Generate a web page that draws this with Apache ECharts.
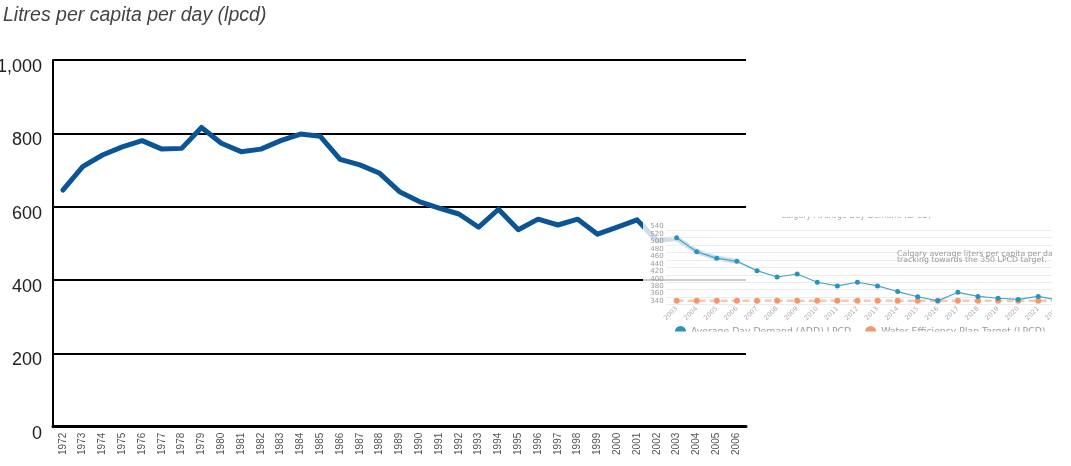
<!DOCTYPE html>
<html>
<head>
<meta charset="utf-8">
<script src="https://cdn.jsdelivr.net/npm/echarts@6/dist/echarts.min.js"></script>
<style>
html,body{margin:0;padding:0;background:#fff;}
#chart{width:1071px;height:466px;}
</style>
</head>
<body>
<div id="chart"></div>
<script>
// Main chart data
var mainYears = [];
for (var y = 1972; y <= 2006; y++) mainYears.push(String(y));
var mainValues = [645, 709, 741, 763, 780, 757, 759, 816, 773, 750, 757, 780, 798, 792, 729, 714, 691, 641, 614, 596,
                  580, 544, 593, 537, 566, 550, 566, 525, 544, 564, 508, 513, 478, 460, 451];
var mainYTicks = [0, 200, 400, 600, 800, 1000];

// Inset chart data
var insetYears = ['2003','2004','2005','2006','2007','2008','2009','2010','2011','2012',
                  '2013','2014','2015','2016','2017','2018','2019','2020','2021','2022'];
var addValues = [519, 482, 464, 456, 431, 414, 422, 400, 390, 400, 390, 375, 361, 350, 373, 362, 357, 354, 362, 352];
var targetValues = [350, 350, 350, 350, 350, 350, 350, 350, 350, 350, 350, 350, 350, 350, 350, 350, 350, 350, 350, 350];

var chart = echarts.init(document.getElementById('chart'));
var insetFont = 'DejaVu Sans';
var option = {
  animation: false,
  backgroundColor: '#fff',
  title: [
    {
      text: 'Litres per capita per day (lpcd)',
      left: 3, top: 6, padding: 0,
      textStyle: {fontFamily: 'Liberation Sans', fontStyle: 'italic', fontWeight: 'normal', fontSize: 19.5, color: '#444'}
    },
    {
      text: 'Calgary average liters per capita per day (LPCD) is\ntracking towards the 350 LPCD target.',
      left: 897, top: 250.7, z: 60, padding: 0,
      textStyle: {fontFamily: insetFont, fontWeight: 'normal', fontSize: 7.8, lineHeight: 6.5, color: '#999'}
    }
  ],
  legend: {
    data: ['Average Day Demand (ADD) LPCD', 'Water Efficiency Plan Target (LPCD)'],
    left: 670, top: 321, z: 60,
    icon: 'circle', itemWidth: 11, itemHeight: 11, itemGap: 14,
    textStyle: {fontFamily: insetFont, fontSize: 9.3, color: '#999'}
  },
  grid: [
    {left: 53, right: 325, top: 60, bottom: 39.3, outerBoundsMode: 'none', containLabel: false},
    {left: 666.6, right: 2.6, top: 230, bottom: 161.4, outerBoundsMode: 'none', containLabel: false}
  ],
  xAxis: [
    {
      type: 'category', gridIndex: 0, data: mainYears, boundaryGap: true,
      axisLine: {lineStyle: {color: '#000', width: 3}},
      axisTick: {show: false},
      axisLabel: {rotate: 90, interval: 0, fontSize: 10, fontFamily: 'Liberation Sans', color: '#555', margin: 6}
    },
    {
      type: 'category', gridIndex: 1, data: insetYears, boundaryGap: true, z: 55,
      axisLine: {show: false},
      axisTick: {show: false},
      axisLabel: {rotate: 45, interval: 0, fontSize: 6.5, fontFamily: insetFont, color: '#aaa', margin: 3}
    }
  ],
  yAxis: [
    {
      type: 'value', gridIndex: 0, min: mainYTicks[0], max: mainYTicks[mainYTicks.length - 1], interval: 200,
      axisLine: {show: true, lineStyle: {color: '#000', width: 2}},
      axisTick: {show: false},
      splitLine: {lineStyle: {color: '#000', width: 2}},
      axisLabel: {
        fontSize: 18, fontFamily: 'Liberation Sans', color: '#222', margin: 11,
        verticalAlign: 'top', lineHeight: 14,
        formatter: function (v) { return v.toLocaleString('en-US'); }
      }
    },
    {
      type: 'value', gridIndex: 1, min: 340, max: 540, interval: 20, z: 55,
      axisLine: {show: false},
      axisTick: {show: false},
      splitLine: {lineStyle: {color: '#ececec', width: 1}},
      axisLabel: {fontSize: 7, fontFamily: insetFont, color: '#999', margin: 3, verticalAlign: 'bottom',
                  showMinLabel: true, showMaxLabel: true, hideOverlap: false}
    }
  ],
  series: [
    {
      name: 'Main', type: 'line', xAxisIndex: 0, yAxisIndex: 0, data: mainValues,
      symbol: 'none', z: 2,
      lineStyle: {color: '#0b5596', width: 5, cap: 'round', join: 'round'}
    },
    {
      name: 'Water Efficiency Plan Target (LPCD)', type: 'line', xAxisIndex: 1, yAxisIndex: 1, data: targetValues,
      symbol: 'circle', symbolSize: 6, z: 60,
      itemStyle: {color: '#f4976c'},
      lineStyle: {color: '#f8c9b0', width: 2.5, type: [7, 4]}
    },
    {
      name: 'Average Day Demand (ADD) LPCD', type: 'line', xAxisIndex: 1, yAxisIndex: 1, data: addValues,
      symbol: 'circle', symbolSize: 5, z: 61,
      itemStyle: {color: '#2a93bd'},
      lineStyle: {color: '#45a6cb', width: 1.2}
    }
  ],
  graphic: [
    {type: 'rect', z: 50, silent: true, shape: {x: 643, y: 214, width: 409, height: 118}, style: {fill: 'rgba(255,255,255,0.8)'}},
    {type: 'text', z: 90, silent: true, x: 856, y: 219.5,
     style: {text: 'Calgary Average Day Demand (LPCD)', fill: '#aaa', font: '8px "DejaVu Sans"', align: 'center', verticalAlign: 'bottom'}},
    {type: 'rect', z: 100, silent: true, shape: {x: 643, y: 208.5, width: 428, height: 8.3}, style: {fill: '#fff'}},
    {type: 'rect', z: 100, silent: true, shape: {x: 1052, y: 208.5, width: 19, height: 142}, style: {fill: '#fff'}},
    {type: 'rect', z: 100, silent: true, shape: {x: 643, y: 331.5, width: 428, height: 18}, style: {fill: '#fff'}}
  ]
};
chart.setOption(option);
</script>
</body>
</html>
